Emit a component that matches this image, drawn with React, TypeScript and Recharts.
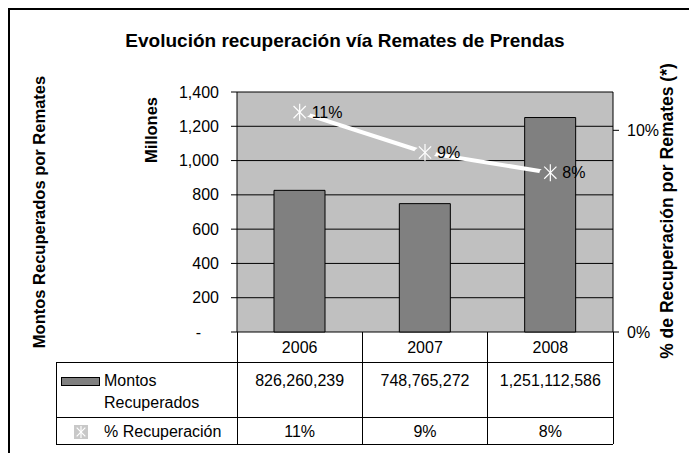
import React from "react";
import {
  ComposedChart,
  Bar,
  Line,
  XAxis,
  YAxis,
  CartesianGrid,
  LabelList,
} from "recharts";

// data
const years = ["2006", "2007", "2008"];
const montos = [826260239, 748765272, 1251112586];
const pctRecuperacion = [0.109, 0.089, 0.079];
const leftTicks = [0, 200, 400, 600, 800, 1000, 1200, 1400];
const rightTicks = [0, 0.1];

const FONT = "'Liberation Sans', Arial, sans-serif";
const PLOT_BG = "#c0c0c0";
const BAR_FILL = "#808080";

const W = 689;
const H = 453;
const PLOT_LEFT = 237;
const PLOT_RIGHT = 613;
const PLOT_TOP = 92;
const PLOT_BOTTOM = 332;
const LEFT_MAX = 1400;
const RIGHT_MAX = 0.119;

const ROW_Y = [PLOT_BOTTOM, 362, 417, 444];
const TABLE_LEFT = 56;

const data = years.map((y, i) => ({
  year: y,
  millones: montos[i] / 1e6,
  pct: pctRecuperacion[i],
}));

const fmtNum = (v: number) => v.toLocaleString("en-US");
const fmtPct = (v: number) => `${Math.round(v * 100)}%`;

function Asterisk({ cx, cy, r, color }: { cx: number; cy: number; r: number; color: string }) {
  const d = r * 0.72;
  return (
    <g stroke={color} strokeWidth={1.2}>
      <line x1={cx} y1={cy - r} x2={cx} y2={cy + r} />
      <line x1={cx - d} y1={cy - d} x2={cx + d} y2={cy + d} />
      <line x1={cx - d} y1={cy + d} x2={cx + d} y2={cy - d} />
    </g>
  );
}

function StarDot(props: any) {
  const { cx, cy, payload } = props;
  if (cx == null || cy == null) return null;
  // Excel leaves a gap between line and marker; mask with whatever sits behind
  const barTop = PLOT_BOTTOM - (payload.millones / LEFT_MAX) * (PLOT_BOTTOM - PLOT_TOP);
  const bg = cy > barTop ? BAR_FILL : PLOT_BG;
  return (
    <g>
      <ellipse cx={cx} cy={cy} rx={11} ry={6} fill={bg} />
      <Asterisk cx={cx} cy={cy} r={8.5} color="#ffffff" />
    </g>
  );
}

function PctLabel(props: any) {
  const { x, y, value } = props;
  return (
    <text x={x + 12} y={y} dominantBaseline="central" fontSize={16} fontFamily={FONT} fill="#000">
      {fmtPct(value)}
    </text>
  );
}

function LeftTick(props: any) {
  const { x, y, payload } = props;
  const v = payload.value;
  return (
    <text
      x={v === 0 ? x - 18 : x}
      y={y}
      textAnchor="end"
      dominantBaseline="central"
      fontSize={16}
      fontFamily={FONT}
      fill="#000"
    >
      {v === 0 ? "-" : fmtNum(v)}
    </text>
  );
}

function DataTable() {
  const colW = (PLOT_RIGHT - PLOT_LEFT) / years.length;
  const colX = years.map((_, i) => PLOT_LEFT + i * colW);
  const txt = { fontSize: 16, fontFamily: FONT, fill: "#000" };
  return (
    <svg width={W} height={H} style={{ position: "absolute", left: 0, top: 0, pointerEvents: "none" }}>
      <g stroke="#000" strokeWidth={1} shapeRendering="crispEdges">
        {[...colX, PLOT_RIGHT].map((x, i) => (
          <line key={i} x1={x} y1={ROW_Y[0]} x2={x} y2={ROW_Y[3]} />
        ))}
        <line x1={TABLE_LEFT} y1={ROW_Y[1]} x2={TABLE_LEFT} y2={ROW_Y[3]} />
        {ROW_Y.slice(1).map((y, i) => (
          <line key={i} x1={TABLE_LEFT} y1={y} x2={PLOT_RIGHT} y2={y} />
        ))}
      </g>
      {years.map((y, i) => (
        <text key={y} x={colX[i] + colW / 2} y={347} textAnchor="middle" dominantBaseline="central" {...txt}>
          {y}
        </text>
      ))}
      {montos.map((m, i) => (
        <text key={i} x={colX[i] + colW / 2} y={380} textAnchor="middle" dominantBaseline="central" {...txt}>
          {fmtNum(m)}
        </text>
      ))}
      {pctRecuperacion.map((p, i) => (
        <text key={i} x={colX[i] + colW / 2} y={431} textAnchor="middle" dominantBaseline="central" {...txt}>
          {fmtPct(p)}
        </text>
      ))}
      <rect x={61} y={377} width={38} height={8} fill={BAR_FILL} stroke="#000" shapeRendering="crispEdges" />
      <text x={104} y={380} dominantBaseline="central" {...txt}>Montos</text>
      <text x={104} y={402} dominantBaseline="central" {...txt}>Recuperados</text>
      <rect x={74} y={425} width={14} height={14} fill="#c8c8c8" />
      <Asterisk cx={81} cy={432} r={6} color="#ffffff" />
      <text x={104} y={431} dominantBaseline="central" {...txt}>% Recuperación</text>
    </svg>
  );
}

function Titles() {
  const bold = { fontFamily: FONT, fontWeight: 700, fill: "#000" };
  return (
    <svg width={W} height={H} style={{ position: "absolute", left: 0, top: 0, pointerEvents: "none" }}>
      <text x={345} y={40} textAnchor="middle" dominantBaseline="central" fontSize={19} {...bold}>
        Evolución recuperación vía Remates de Prendas
      </text>
      <text
        transform="translate(39,212) rotate(-90)"
        textAnchor="middle"
        dominantBaseline="central"
        fontSize={16.5}
        {...bold}
      >
        Montos Recuperados por Remates
      </text>
      <text
        transform="translate(151,130) rotate(-90)"
        textAnchor="middle"
        dominantBaseline="central"
        fontSize={16.5}
        {...bold}
      >
        Millones
      </text>
      <text
        transform="translate(667,211) rotate(-90)"
        textAnchor="middle"
        dominantBaseline="central"
        fontSize={17.5}
        {...bold}
      >
        % de Recuperación por Remates (*)
      </text>
    </svg>
  );
}

export default function App() {
  return (
    <div
      style={{
        position: "absolute",
        left: 0,
        top: 0,
        width: W,
        height: H,
        overflow: "hidden",
        background: "#fff",
      }}
    >
      <div
        style={{
          position: "absolute",
          left: 8,
          top: 8,
          width: W,
          height: H,
          borderLeft: "2px solid #000",
          borderTop: "2px solid #000",
        }}
      />
      <ComposedChart
        width={W}
        height={H}
        data={data}
        margin={{ top: PLOT_TOP, right: W - PLOT_RIGHT - 50, bottom: H - PLOT_BOTTOM, left: PLOT_LEFT - 100 }}
        style={{ position: "absolute", left: 0, top: 0 }}
      >
        <CartesianGrid vertical={false} stroke="#000" fill={PLOT_BG} yAxisId="left" />
        <XAxis dataKey="year" hide />
        <YAxis
          yAxisId="left"
          width={100}
          domain={[0, LEFT_MAX]}
          ticks={leftTicks}
          interval={0}
          axisLine={{ stroke: "#000" }}
          tickLine={{ stroke: "#000" }}
          tickSize={6}
          tickMargin={12}
          tick={<LeftTick />}
        />
        <YAxis
          yAxisId="right"
          orientation="right"
          width={50}
          domain={[0, RIGHT_MAX]}
          ticks={rightTicks}
          interval={0}
          allowDataOverflow
          axisLine={{ stroke: "#000" }}
          tickLine={{ stroke: "#000" }}
          tickSize={6}
          tickMargin={8}
          tickFormatter={fmtPct}
          tick={{ fill: "#000", fontSize: 16, fontFamily: FONT }}
        />
        <Bar
          yAxisId="left"
          dataKey="millones"
          barSize={51}
          fill={BAR_FILL}
          stroke="#000"
          strokeWidth={1}
          isAnimationActive={false}
        />
        <Line
          yAxisId="right"
          dataKey="pct"
          stroke="#ffffff"
          strokeWidth={4}
          dot={<StarDot />}
          activeDot={false}
          isAnimationActive={false}
        >
          <LabelList dataKey="pct" content={<PctLabel />} />
        </Line>
      </ComposedChart>
      <DataTable />
      <Titles />
    </div>
  );
}
